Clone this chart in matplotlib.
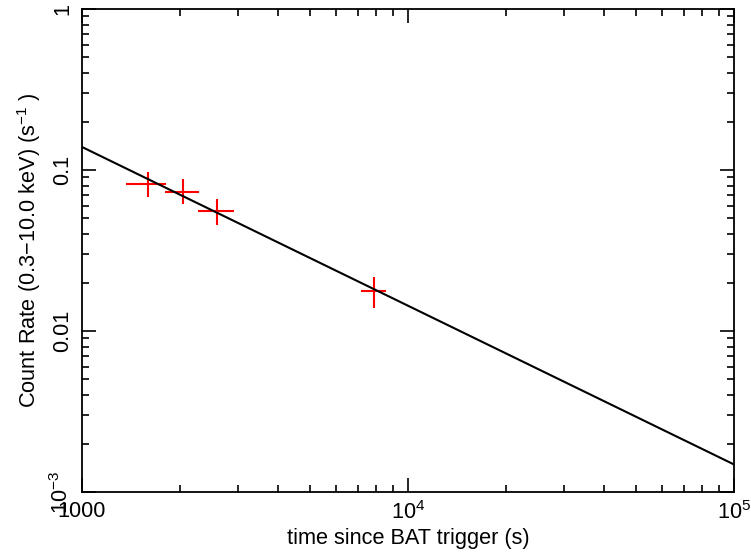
import matplotlib
matplotlib.use('Agg')
import matplotlib.pyplot as plt
import numpy as np
from matplotlib.ticker import LogLocator, NullFormatter

plt.rcParams['font.family'] = ['Liberation Sans', 'DejaVu Sans']
plt.rcParams['mathtext.fontset'] = 'custom'
plt.rcParams['mathtext.rm'] = 'Liberation Sans'

# data
t = [1594, 2037, 2588, 7881]
t_lo = [1365, 1798, 2274, 7192]
t_hi = [1810, 2290, 2925, 8559]
rate = [0.0818, 0.0733, 0.0556, 0.0177]
rate_lo = [0.0683, 0.0615, 0.0455, 0.0138]
rate_hi = [0.0972, 0.0876, 0.0658, 0.0216]

# power-law fit
norm = 0.139
index = 0.986
t_fit = [1000, 1e5]

fs = 15.7

fig = plt.figure(figsize=(7.51, 5.53), dpi=100)
ax = fig.add_axes([0.1092, 0.1103, 0.8682, 0.8734])

xerr = [np.array(t) - np.array(t_lo), np.array(t_hi) - np.array(t)]
yerr = [np.array(rate) - np.array(rate_lo), np.array(rate_hi) - np.array(rate)]
ax.errorbar(t, rate, xerr=xerr, yerr=yerr, fmt='none', ecolor='red', elinewidth=1.5, capsize=0, zorder=2)

tf = np.array(t_fit)
ax.plot(tf, norm * (tf / 1000.0) ** (-index), color='black', lw=1.5, zorder=3)

ax.set_xscale('log')
ax.set_yscale('log')
ax.set_xlim(1000, 1e5)
ax.set_ylim(1e-3, 1)

ax.set_xticks([1000, 1e4, 1e5])
ax.set_xticklabels(['1000', r'$\mathregular{10^{4}}$', r'$\mathregular{10^{5}}$'])
ax.set_yticks([1e-3, 0.01, 0.1, 1])
ax.set_yticklabels([r'$\mathregular{10^{-3}}$', '0.01', '0.1', '1'], rotation=90, va='center')
ax.xaxis.set_minor_locator(LogLocator(base=10, subs=np.arange(2, 10)))
ax.yaxis.set_minor_locator(LogLocator(base=10, subs=np.arange(2, 10)))
ax.xaxis.set_minor_formatter(NullFormatter())
ax.yaxis.set_minor_formatter(NullFormatter())

ax.tick_params(which='both', direction='in', top=True, right=True, width=1.2, labelsize=fs)
ax.tick_params(which='major', length=10, pad=6.5)
ax.tick_params(which='minor', length=5)
for s in ax.spines.values():
    s.set_linewidth(1.3)

ax.set_xlabel('time since BAT trigger (s)', fontsize=fs, labelpad=3)
ax.set_ylabel('Count Rate (0.3\u221210.0 keV) (s$\\mathregular{^{-1}}$ )', fontsize=fs, labelpad=5)

fig.savefig('out.png', dpi=100)
